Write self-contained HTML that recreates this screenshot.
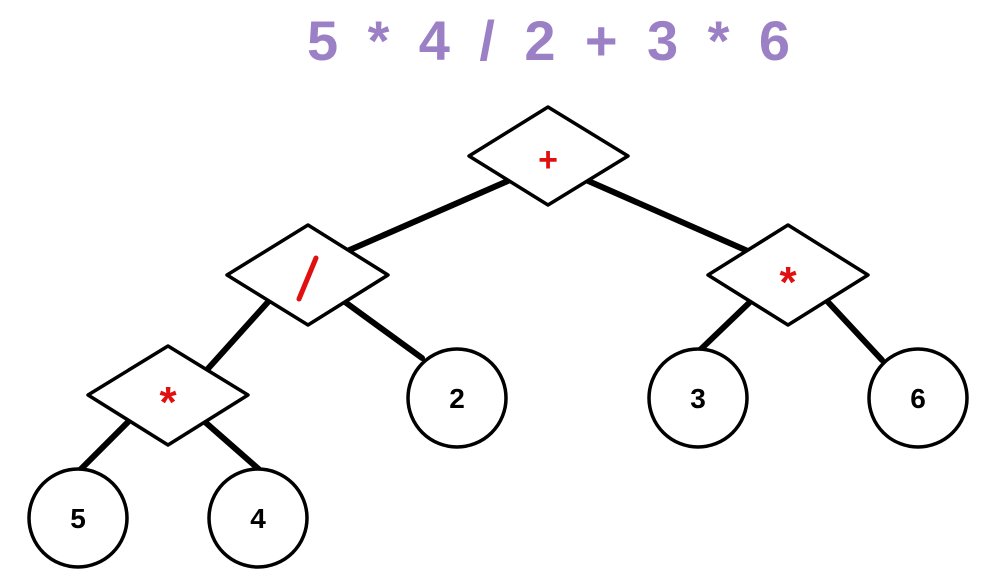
<!DOCTYPE html>
<html><head><style>
body{margin:0;background:#fff;}
svg{display:block}
</style></head><body>
<svg width="988" height="576" viewBox="0 0 988 576" xmlns="http://www.w3.org/2000/svg">
<rect width="988" height="576" fill="#fff"/>
<text x="307" y="60" textLength="483" lengthAdjust="spacing" font-family="Liberation Sans, sans-serif" font-weight="bold" font-size="56" fill="#9b80c6">5 * 4 / 2 + 3 * 6</text>
<g stroke="#000" stroke-width="6" stroke-linecap="round">
<line x1="510" y1="180" x2="345" y2="252"/>
<line x1="586" y1="180" x2="750" y2="252"/>
<line x1="268" y1="302" x2="205" y2="372"/>
<line x1="345" y1="302" x2="422" y2="358"/>
<line x1="750" y1="302" x2="700" y2="350"/>
<line x1="828" y1="302" x2="882" y2="360"/>
<line x1="128" y1="422" x2="80" y2="470"/>
<line x1="205" y1="422" x2="262" y2="472"/>
</g>
<g fill="#fff" stroke="#000" stroke-width="3.5" stroke-linejoin="round">
<polygon points="548,107 628,156 548,205 469,156"/>
<polygon points="308,225 388,275 308,325 227,275"/>
<polygon points="788,225 868,275 788,325 708,275"/>
<polygon points="168,346 248,395 168,445 88,395"/>
<circle cx="457" cy="398" r="49"/>
<circle cx="698" cy="398" r="49"/>
<circle cx="918" cy="398" r="49"/>
<circle cx="78" cy="518" r="49"/>
<circle cx="258" cy="518" r="49"/>
</g>
<g fill="#e01010" font-family="Liberation Sans, sans-serif" font-weight="bold" text-anchor="middle">
<text x="548" y="171" font-size="34">+</text>
<text x="788" y="297" font-size="44">*</text>
<text x="168" y="417" font-size="44">*</text>
</g>
<line x1="316" y1="258" x2="299" y2="299" stroke="#e01010" stroke-width="5" stroke-linecap="round"/>
<g fill="#000" font-family="Liberation Sans, sans-serif" font-weight="bold" font-size="28" text-anchor="middle">
<text x="457" y="408">2</text>
<text x="698" y="408">3</text>
<text x="918" y="408">6</text>
<text x="78" y="528">5</text>
<text x="258" y="528">4</text>
</g>
</svg>
</body></html>
